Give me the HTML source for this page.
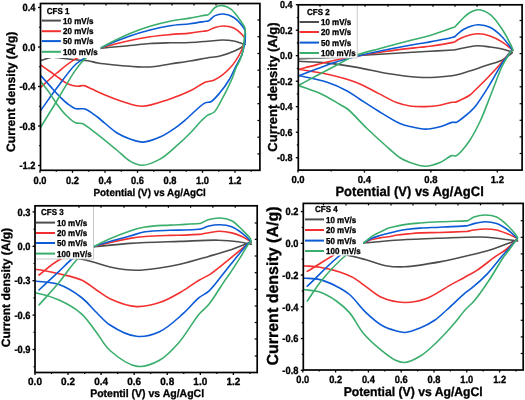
<!DOCTYPE html>
<html><head><meta charset="utf-8"><style>
html,body{margin:0;padding:0;background:#fff;}
svg{display:block;filter:blur(0.3px);}
text{font-family:"Liberation Sans", sans-serif;fill:#000;stroke:#000;stroke-width:0.3px;text-rendering:geometricPrecision;}
</style></head><body>
<svg width="525" height="400" viewBox="0 0 525 400">
<rect width="525" height="400" fill="#fff"/>
<clipPath id="c1"><rect x="40.50" y="3.50" width="219.40" height="166.80"/></clipPath>
<g clip-path="url(#c1)" fill="none" stroke-width="1.60" stroke-linejoin="round" stroke-linecap="round">
<path stroke="#4c4e4b" d="M40.00 56.00 C50.00 54.67 60.00 53.27 70.00 52.00 C80.00 50.73 89.99 49.48 100.00 48.40 C109.99 47.32 121.01 46.38 130.00 45.50 C137.34 44.78 143.33 43.95 150.00 43.50 C156.66 43.05 163.33 42.97 170.00 42.80 C176.67 42.63 183.50 42.77 190.00 42.50 C196.19 42.24 202.41 41.69 208.10 41.25 C213.18 40.85 218.00 40.00 222.50 40.00 C226.48 40.00 230.04 40.28 233.75 41.00 C237.54 41.73 241.25 43.27 245.00 44.40"/>
<path stroke="#4c4e4b" d="M245.00 44.00 C244.00 45.00 243.30 46.04 242.00 47.00 C240.23 48.31 237.83 49.46 235.00 50.70 C230.99 52.46 224.88 54.77 220.00 56.00 C215.57 57.11 211.62 57.24 207.00 58.00 C201.71 58.87 195.90 60.04 190.00 61.00 C183.61 62.04 176.18 63.02 170.00 64.00 C164.64 64.85 159.84 66.01 155.00 66.50 C150.53 66.96 146.25 67.04 142.00 67.00 C137.92 66.96 134.22 66.61 130.00 66.30 C125.28 65.96 120.15 65.53 115.00 65.00 C109.51 64.44 102.90 63.83 98.00 63.00 C94.21 62.36 91.54 61.33 88.00 60.80 C84.08 60.22 79.74 60.22 75.50 59.80 C71.08 59.36 66.17 58.63 62.00 58.20 C58.42 57.83 55.45 56.96 52.00 57.30 C48.15 57.67 44.00 59.63 40.00 60.80"/>
<path stroke="#f33030" d="M40.00 88.00 C45.60 83.00 50.95 77.81 56.80 73.00 C62.77 68.10 68.58 62.91 75.50 58.90 C82.88 54.62 91.30 51.39 100.00 48.40 C109.38 45.17 120.98 42.52 130.00 40.50 C137.31 38.86 143.32 37.78 150.00 36.80 C156.65 35.82 163.33 35.22 170.00 34.60 C176.66 33.98 183.71 33.77 190.00 33.10 C195.64 32.50 203.16 31.30 206.00 30.90 C207.03 30.76 207.44 30.82 208.10 30.60 C208.77 30.38 209.21 29.97 210.00 29.60 C211.26 29.00 213.10 28.07 215.00 27.50 C217.34 26.80 220.22 25.98 223.10 26.00 C226.41 26.02 230.53 26.62 233.75 28.10 C237.01 29.60 240.57 32.90 242.50 35.00 C243.73 36.33 244.60 37.61 245.00 38.75 C245.28 39.56 245.13 40.25 245.20 41.00"/>
<path stroke="#f33030" d="M245.00 40.00 C243.67 43.83 243.01 47.46 241.00 51.50 C238.44 56.66 234.46 63.25 230.00 68.00 C225.55 72.74 219.06 77.71 214.30 80.00 C211.00 81.59 208.37 80.97 205.10 82.30 C200.87 84.02 196.65 87.74 191.40 90.30 C184.86 93.49 176.56 96.78 168.60 99.40 C160.23 102.16 150.41 106.20 142.30 106.30 C135.35 106.38 129.28 103.66 122.90 101.70 C116.43 99.71 109.42 96.76 103.75 94.40 C99.11 92.47 94.90 90.34 91.25 88.75 C88.44 87.53 86.18 85.96 83.75 85.60 C81.61 85.28 79.81 86.41 77.50 86.25 C74.54 86.04 70.49 85.07 67.50 83.75 C64.70 82.51 62.70 80.63 60.00 78.75 C56.73 76.48 52.75 73.46 49.30 71.00 C46.10 68.72 43.10 66.67 40.00 64.50"/>
<path stroke="#0b5ad6" d="M40.00 111.40 C45.60 103.60 50.95 95.74 56.80 88.00 C62.77 80.10 69.98 69.66 75.50 64.50 C78.90 61.32 81.37 60.34 84.90 58.00 C89.31 55.07 93.95 51.54 100.00 48.40 C108.15 44.17 120.94 39.22 130.00 36.00 C137.27 33.41 143.30 31.71 150.00 30.00 C156.63 28.31 163.31 26.84 170.00 25.80 C176.64 24.77 183.71 24.55 190.00 23.75 C195.64 23.03 203.16 21.72 206.00 21.30 C207.03 21.15 207.44 21.24 208.10 21.00 C208.78 20.75 209.24 20.36 210.00 19.80 C211.30 18.85 212.95 16.56 215.00 15.60 C217.39 14.47 220.77 13.77 223.75 14.00 C227.00 14.25 230.72 15.60 233.75 17.50 C237.02 19.56 240.57 23.72 242.50 26.25 C243.73 27.86 244.53 29.01 245.00 30.60 C245.49 32.25 245.29 34.15 245.30 36.00 C245.31 37.95 245.10 40.00 245.00 42.00"/>
<path stroke="#0b5ad6" d="M245.00 42.00 C244.00 46.17 243.49 50.51 242.00 54.50 C240.50 58.51 238.06 61.97 236.00 66.00 C233.74 70.43 231.68 75.56 229.00 80.00 C226.34 84.42 223.17 88.86 220.00 92.60 C217.11 96.01 213.82 100.12 210.90 101.70 C208.92 102.77 207.43 101.75 205.10 102.90 C200.16 105.33 190.36 115.78 184.90 120.30 C181.27 123.30 179.24 125.14 175.70 127.60 C171.35 130.63 165.91 134.39 160.50 136.80 C155.02 139.24 148.42 141.94 143.00 142.10 C138.37 142.24 134.28 140.51 130.00 139.00 C125.51 137.42 121.33 135.62 116.70 132.70 C110.78 128.97 103.59 121.69 98.00 117.50 C93.70 114.28 89.18 110.60 86.25 109.40 C84.74 108.78 83.97 108.90 82.50 108.75 C80.43 108.54 77.40 109.24 75.00 108.50 C72.39 107.69 69.92 105.60 67.50 103.75 C64.91 101.77 62.65 99.56 60.00 96.90 C56.68 93.56 52.74 88.90 49.30 85.10 C46.09 81.55 43.10 78.23 40.00 74.80"/>
<path stroke="#3aae6c" d="M40.00 128.30 C45.60 119.20 51.07 110.39 56.80 101.00 C62.88 91.03 70.07 77.69 75.50 70.10 C78.96 65.27 81.13 62.34 84.90 58.90 C89.13 55.04 93.96 51.98 100.00 48.40 C108.16 43.57 120.91 37.38 130.00 33.50 C137.24 30.41 143.28 28.34 150.00 26.30 C156.62 24.29 163.30 22.67 170.00 21.30 C176.64 19.94 183.71 19.19 190.00 18.10 C195.64 17.12 203.16 15.60 206.00 15.10 C207.03 14.92 207.45 15.04 208.10 14.75 C208.79 14.44 209.25 13.92 210.00 13.20 C211.31 11.93 212.93 8.77 215.00 7.50 C217.09 6.22 219.94 5.39 222.50 5.60 C225.34 5.83 228.55 7.37 231.25 9.40 C234.49 11.84 237.58 16.62 240.00 20.00 C242.01 22.81 244.27 25.17 245.00 28.10 C245.73 31.01 244.67 34.55 244.40 37.50 C244.16 40.14 243.80 42.50 243.50 45.00"/>
<path stroke="#3aae6c" d="M243.50 45.00 C243.37 46.67 243.47 48.07 243.10 50.00 C242.56 52.79 241.25 56.90 240.00 60.00 C238.85 62.87 237.30 65.03 236.00 68.00 C234.45 71.56 233.50 75.42 231.50 80.00 C228.67 86.48 223.29 97.06 220.00 102.90 C217.87 106.68 216.64 109.88 214.30 112.00 C212.32 113.79 209.51 113.99 207.40 115.40 C205.28 116.82 203.75 118.38 201.60 120.50 C198.52 123.54 194.94 128.17 191.00 132.20 C186.45 136.86 180.89 142.17 175.70 146.70 C170.71 151.05 166.09 155.80 160.50 158.90 C154.92 161.99 147.69 165.29 142.20 165.30 C137.72 165.31 133.96 163.33 130.00 161.10 C125.42 158.52 121.93 154.26 116.70 150.00 C109.36 144.01 96.35 133.27 90.00 128.70 C86.67 126.30 84.72 124.57 82.10 123.60 C79.89 122.78 77.76 123.67 75.50 122.70 C72.47 121.40 69.08 118.13 66.10 115.20 C62.81 111.96 59.64 107.74 56.80 103.90 C54.06 100.20 52.00 96.38 49.30 92.60 C46.43 88.59 43.10 84.53 40.00 80.50"/>
</g>
<rect x="40.50" y="3.50" width="59.80" height="54.50" fill="#fff"/>
<text transform="translate(46.80 13.81) scale(1 1.080)" font-size="8.00" text-anchor="start" font-weight="bold">CFS 1</text>
<line x1="41.80" y1="20.60" x2="60.90" y2="20.60" stroke="#4c4e4b" stroke-width="2"/>
<text transform="translate(63.10 23.71) scale(1 1.080)" font-size="8.00" text-anchor="start" font-weight="bold">10 mV/s</text>
<line x1="41.80" y1="31.20" x2="60.90" y2="31.20" stroke="#f33030" stroke-width="2"/>
<text transform="translate(63.10 34.31) scale(1 1.080)" font-size="8.00" text-anchor="start" font-weight="bold">20 mV/s</text>
<line x1="41.80" y1="41.10" x2="60.90" y2="41.10" stroke="#0b5ad6" stroke-width="2"/>
<text transform="translate(63.10 44.21) scale(1 1.080)" font-size="8.00" text-anchor="start" font-weight="bold">50 mV/s</text>
<line x1="41.80" y1="51.80" x2="60.90" y2="51.80" stroke="#3aae6c" stroke-width="2"/>
<text transform="translate(63.10 54.91) scale(1 1.080)" font-size="8.00" text-anchor="start" font-weight="bold">100 mV/s</text>
<rect x="40.50" y="3.50" width="219.40" height="166.80" fill="none" stroke="#000" stroke-width="1.7"/>
<line x1="40.00" y1="170.30" x2="40.00" y2="172.80" stroke="#000" stroke-width="1.3"/>
<text transform="translate(40.00 184.35) scale(1 1.120)" font-size="9.30" text-anchor="middle" font-weight="bold">0.0</text>
<line x1="72.50" y1="170.30" x2="72.50" y2="172.80" stroke="#000" stroke-width="1.3"/>
<text transform="translate(72.50 184.35) scale(1 1.120)" font-size="9.30" text-anchor="middle" font-weight="bold">0.2</text>
<line x1="105.00" y1="170.30" x2="105.00" y2="172.80" stroke="#000" stroke-width="1.3"/>
<text transform="translate(105.00 184.35) scale(1 1.120)" font-size="9.30" text-anchor="middle" font-weight="bold">0.4</text>
<line x1="137.50" y1="170.30" x2="137.50" y2="172.80" stroke="#000" stroke-width="1.3"/>
<text transform="translate(137.50 184.35) scale(1 1.120)" font-size="9.30" text-anchor="middle" font-weight="bold">0.6</text>
<line x1="170.00" y1="170.30" x2="170.00" y2="172.80" stroke="#000" stroke-width="1.3"/>
<text transform="translate(170.00 184.35) scale(1 1.120)" font-size="9.30" text-anchor="middle" font-weight="bold">0.8</text>
<line x1="202.50" y1="170.30" x2="202.50" y2="172.80" stroke="#000" stroke-width="1.3"/>
<text transform="translate(202.50 184.35) scale(1 1.120)" font-size="9.30" text-anchor="middle" font-weight="bold">1.0</text>
<line x1="235.00" y1="170.30" x2="235.00" y2="172.80" stroke="#000" stroke-width="1.3"/>
<text transform="translate(235.00 184.35) scale(1 1.120)" font-size="9.30" text-anchor="middle" font-weight="bold">1.2</text>
<line x1="56.25" y1="170.30" x2="56.25" y2="171.80" stroke="#000" stroke-width="1.2"/>
<line x1="88.75" y1="170.30" x2="88.75" y2="171.80" stroke="#000" stroke-width="1.2"/>
<line x1="121.25" y1="170.30" x2="121.25" y2="171.80" stroke="#000" stroke-width="1.2"/>
<line x1="153.75" y1="170.30" x2="153.75" y2="171.80" stroke="#000" stroke-width="1.2"/>
<line x1="186.25" y1="170.30" x2="186.25" y2="171.80" stroke="#000" stroke-width="1.2"/>
<line x1="218.75" y1="170.30" x2="218.75" y2="171.80" stroke="#000" stroke-width="1.2"/>
<line x1="251.25" y1="170.30" x2="251.25" y2="171.80" stroke="#000" stroke-width="1.2"/>
<line x1="38.00" y1="7.50" x2="40.50" y2="7.50" stroke="#000" stroke-width="1.3"/>
<text transform="translate(35.50 11.25) scale(1 1.120)" font-size="9.30" text-anchor="end" font-weight="bold">0.4</text>
<line x1="38.00" y1="47.00" x2="40.50" y2="47.00" stroke="#000" stroke-width="1.3"/>
<text transform="translate(35.50 50.75) scale(1 1.120)" font-size="9.30" text-anchor="end" font-weight="bold">0.0</text>
<line x1="38.00" y1="86.50" x2="40.50" y2="86.50" stroke="#000" stroke-width="1.3"/>
<text transform="translate(35.50 90.25) scale(1 1.120)" font-size="9.30" text-anchor="end" font-weight="bold">-0.4</text>
<line x1="38.00" y1="126.00" x2="40.50" y2="126.00" stroke="#000" stroke-width="1.3"/>
<text transform="translate(35.50 129.75) scale(1 1.120)" font-size="9.30" text-anchor="end" font-weight="bold">-0.8</text>
<line x1="38.00" y1="165.50" x2="40.50" y2="165.50" stroke="#000" stroke-width="1.3"/>
<text transform="translate(35.50 169.25) scale(1 1.120)" font-size="9.30" text-anchor="end" font-weight="bold">-1.2</text>
<line x1="39.00" y1="27.25" x2="40.50" y2="27.25" stroke="#000" stroke-width="1.2"/>
<line x1="39.00" y1="66.75" x2="40.50" y2="66.75" stroke="#000" stroke-width="1.2"/>
<line x1="39.00" y1="106.25" x2="40.50" y2="106.25" stroke="#000" stroke-width="1.2"/>
<line x1="39.00" y1="145.75" x2="40.50" y2="145.75" stroke="#000" stroke-width="1.2"/>
<line x1="62.00" y1="3.50" x2="62.00" y2="5.50" stroke="#000" stroke-width="1.2"/>
<line x1="84.00" y1="3.50" x2="84.00" y2="5.50" stroke="#000" stroke-width="1.2"/>
<line x1="106.00" y1="3.50" x2="106.00" y2="5.50" stroke="#000" stroke-width="1.2"/>
<line x1="128.00" y1="3.50" x2="128.00" y2="5.50" stroke="#000" stroke-width="1.2"/>
<line x1="150.00" y1="3.50" x2="150.00" y2="5.50" stroke="#000" stroke-width="1.2"/>
<line x1="172.00" y1="3.50" x2="172.00" y2="5.50" stroke="#000" stroke-width="1.2"/>
<line x1="194.00" y1="3.50" x2="194.00" y2="5.50" stroke="#000" stroke-width="1.2"/>
<line x1="216.00" y1="3.50" x2="216.00" y2="5.50" stroke="#000" stroke-width="1.2"/>
<line x1="238.00" y1="3.50" x2="238.00" y2="5.50" stroke="#000" stroke-width="1.2"/>
<line x1="257.40" y1="20.00" x2="259.90" y2="20.00" stroke="#000" stroke-width="1.2"/>
<line x1="257.40" y1="36.70" x2="259.90" y2="36.70" stroke="#000" stroke-width="1.2"/>
<line x1="257.40" y1="53.50" x2="259.90" y2="53.50" stroke="#000" stroke-width="1.2"/>
<line x1="257.40" y1="70.20" x2="259.90" y2="70.20" stroke="#000" stroke-width="1.2"/>
<line x1="257.40" y1="87.00" x2="259.90" y2="87.00" stroke="#000" stroke-width="1.2"/>
<line x1="257.40" y1="103.70" x2="259.90" y2="103.70" stroke="#000" stroke-width="1.2"/>
<line x1="257.40" y1="120.50" x2="259.90" y2="120.50" stroke="#000" stroke-width="1.2"/>
<line x1="257.40" y1="137.20" x2="259.90" y2="137.20" stroke="#000" stroke-width="1.2"/>
<line x1="257.40" y1="153.90" x2="259.90" y2="153.90" stroke="#000" stroke-width="1.2"/>
<text transform="translate(149.70 195.99) scale(1 1.040)" font-size="9.85" text-anchor="middle" font-weight="bold">Potential (V) vs Ag/AgCl</text>
<text transform="translate(10.50 91.80) rotate(-90)" x="0" y="4.36" font-size="12.10" text-anchor="middle" font-weight="bold">Current density (A/g)</text>
<clipPath id="c2"><rect x="298.30" y="4.80" width="223.80" height="165.30"/></clipPath>
<g clip-path="url(#c2)" fill="none" stroke-width="1.60" stroke-linejoin="round" stroke-linecap="round">
<path stroke="#4c4e4b" d="M298.00 59.00 C308.67 58.50 319.60 58.10 330.00 57.50 C339.91 56.93 348.50 56.18 359.00 55.50 C371.49 54.69 387.40 53.74 400.00 53.00 C410.78 52.37 420.66 51.83 430.00 51.30 C438.18 50.84 449.51 50.27 453.00 50.00 C454.03 49.92 454.07 49.94 455.00 49.80 C457.20 49.46 462.24 48.16 466.00 47.50 C469.90 46.82 474.00 45.88 478.00 45.80 C482.00 45.72 486.01 46.47 490.00 47.00 C494.01 47.53 498.18 48.09 502.00 49.00 C505.59 49.85 508.87 51.13 512.30 52.20"/>
<path stroke="#4c4e4b" d="M512.00 53.00 C508.83 55.33 506.28 58.04 502.50 60.00 C497.91 62.38 491.50 63.67 486.00 65.50 C480.50 67.33 474.74 69.35 469.50 71.00 C464.79 72.48 460.99 73.99 456.00 75.00 C450.03 76.20 442.50 76.84 436.00 77.20 C429.85 77.54 424.77 77.61 418.00 77.20 C409.15 76.67 397.64 75.13 387.50 73.50 C377.30 71.86 367.19 69.17 357.00 67.40 C346.86 65.64 336.52 63.92 326.50 62.90 C316.86 61.92 307.50 61.83 298.00 61.30"/>
<path stroke="#f33030" d="M298.00 69.60 C304.33 67.93 310.66 66.20 317.00 64.60 C323.33 63.00 329.34 61.41 336.00 60.00 C343.28 58.46 351.09 57.18 359.00 55.80 C367.40 54.34 375.67 52.83 385.00 51.50 C395.79 49.96 411.87 48.23 420.00 47.30 C424.34 46.80 425.99 46.75 430.00 46.20 C436.10 45.36 449.52 43.21 453.00 42.40 C454.04 42.16 454.36 42.12 455.00 41.80 C455.70 41.45 456.09 40.86 457.00 40.30 C458.64 39.29 461.41 37.70 464.30 36.70 C468.09 35.39 473.58 33.88 478.00 33.80 C482.13 33.73 486.09 34.61 490.00 35.90 C494.10 37.25 498.26 39.55 502.00 41.90 C505.69 44.22 508.87 47.23 512.30 49.90"/>
<path stroke="#f33030" d="M511.00 51.00 C508.17 54.47 505.72 57.66 502.50 61.40 C498.53 66.01 493.43 71.63 488.80 76.50 C484.27 81.26 478.48 86.93 475.00 90.30 C472.94 92.30 471.97 93.58 470.00 95.00 C467.73 96.63 464.54 98.06 462.00 99.30 C459.77 100.38 457.48 101.65 455.60 102.10 C454.23 102.43 453.47 102.07 451.90 102.30 C449.05 102.72 444.18 104.49 440.00 105.20 C435.45 105.97 430.50 106.46 425.60 106.60 C420.51 106.75 414.96 106.73 410.00 106.00 C405.32 105.31 401.32 104.27 396.60 102.50 C390.87 100.35 384.63 96.56 378.30 93.40 C371.47 89.98 364.90 85.78 357.00 82.70 C347.89 79.15 336.56 76.26 326.50 74.00 C316.90 71.85 307.50 70.87 298.00 69.30"/>
<path stroke="#0b5ad6" d="M298.00 76.00 C304.33 73.60 310.66 71.14 317.00 68.80 C323.32 66.47 329.32 64.09 336.00 62.00 C343.26 59.73 351.08 57.75 359.00 55.80 C367.38 53.74 375.67 51.91 385.00 50.00 C395.78 47.80 411.87 44.91 420.00 43.50 C424.34 42.75 425.99 42.62 430.00 41.90 C436.10 40.80 449.53 38.33 453.00 37.30 C454.05 36.99 454.37 36.90 455.00 36.50 C455.71 36.04 456.10 35.37 457.00 34.60 C458.65 33.19 461.32 30.55 464.30 29.00 C468.02 27.07 473.56 24.90 478.00 24.70 C482.11 24.51 486.19 25.51 490.00 27.30 C494.24 29.29 498.34 33.08 502.00 36.70 C505.81 40.47 508.87 45.30 512.30 49.60"/>
<path stroke="#0b5ad6" d="M511.00 51.00 C508.17 54.93 505.55 58.12 502.50 62.80 C498.34 69.18 493.48 78.63 488.80 86.10 C484.31 93.27 478.63 102.33 475.00 106.80 C473.05 109.20 471.91 110.14 470.00 111.90 C467.69 114.02 464.44 116.66 462.00 118.50 C460.06 119.96 458.43 121.59 456.60 122.20 C455.05 122.72 453.79 122.02 451.90 122.40 C448.80 123.02 444.21 125.70 440.00 126.80 C435.48 127.98 430.49 129.12 425.60 129.10 C420.50 129.08 414.59 127.57 410.00 126.50 C406.27 125.63 403.88 125.18 400.00 123.50 C393.87 120.85 384.54 114.78 377.50 110.50 C371.12 106.62 364.98 102.53 359.50 99.00 C354.87 96.02 351.58 93.31 346.70 90.70 C340.85 87.57 333.93 84.43 326.50 82.00 C317.93 79.20 307.50 77.67 298.00 75.50"/>
<path stroke="#3aae6c" d="M298.00 85.70 C304.33 82.30 310.66 78.87 317.00 75.50 C323.33 72.14 329.75 68.79 336.00 65.50 C342.08 62.29 347.30 58.70 354.00 56.00 C361.73 52.88 370.87 51.03 380.00 48.50 C390.10 45.70 402.85 42.36 412.00 40.00 C418.85 38.23 423.68 37.37 430.00 35.50 C437.24 33.36 449.52 28.89 453.00 27.60 C454.04 27.21 454.38 27.23 455.00 26.80 C455.73 26.29 456.12 25.55 457.00 24.60 C458.66 22.82 461.95 19.14 464.30 17.00 C466.25 15.23 467.82 13.68 470.00 12.50 C472.35 11.23 475.08 9.74 478.00 9.80 C481.61 9.87 486.32 11.75 490.00 14.40 C494.47 17.62 498.53 23.91 502.00 29.00 C505.36 33.92 508.63 40.42 510.60 44.40 C511.80 46.83 512.33 48.40 513.20 50.40"/>
<path stroke="#3aae6c" d="M511.00 51.00 C508.17 55.83 505.30 59.78 502.50 65.50 C498.78 73.10 495.17 83.83 491.50 93.00 C487.83 102.17 484.37 112.22 480.50 120.50 C477.15 127.66 473.47 134.61 470.00 140.00 C467.32 144.16 464.67 147.67 462.00 150.50 C459.87 152.76 457.57 155.39 455.60 156.00 C454.29 156.41 453.42 155.28 451.90 155.60 C448.98 156.22 444.28 160.73 440.00 162.50 C435.54 164.34 430.50 166.25 425.60 166.30 C420.51 166.35 414.55 164.12 410.00 162.50 C406.22 161.16 403.51 160.02 400.00 157.75 C395.32 154.72 390.18 149.58 385.00 145.00 C379.23 139.90 373.06 134.30 367.00 128.50 C360.56 122.34 352.68 113.05 347.50 109.00 C344.58 106.72 343.03 106.27 340.00 104.50 C335.43 101.84 329.11 97.71 322.70 94.70 C315.32 91.23 306.23 88.43 298.00 85.30"/>
</g>
<rect x="298.30" y="4.80" width="58.90" height="53.20" fill="#fff" stroke="#bbbbbb" stroke-width="0.8"/>
<text transform="translate(307.00 15.11) scale(1 1.080)" font-size="8.00" text-anchor="start" font-weight="bold">CFS 2</text>
<line x1="299.60" y1="22.00" x2="319.00" y2="22.00" stroke="#4c4e4b" stroke-width="2"/>
<text transform="translate(321.00 25.11) scale(1 1.080)" font-size="8.00" text-anchor="start" font-weight="bold">10 mV/s</text>
<line x1="299.60" y1="32.00" x2="319.00" y2="32.00" stroke="#f33030" stroke-width="2"/>
<text transform="translate(321.00 35.11) scale(1 1.080)" font-size="8.00" text-anchor="start" font-weight="bold">20 mV/s</text>
<line x1="299.60" y1="42.60" x2="319.00" y2="42.60" stroke="#0b5ad6" stroke-width="2"/>
<text transform="translate(321.00 45.71) scale(1 1.080)" font-size="8.00" text-anchor="start" font-weight="bold">50 mV/s</text>
<line x1="299.60" y1="53.00" x2="319.00" y2="53.00" stroke="#3aae6c" stroke-width="2"/>
<text transform="translate(321.00 56.11) scale(1 1.080)" font-size="8.00" text-anchor="start" font-weight="bold">100 mV/s</text>
<rect x="298.30" y="4.80" width="223.80" height="165.30" fill="none" stroke="#000" stroke-width="1.7"/>
<line x1="298.00" y1="170.10" x2="298.00" y2="172.60" stroke="#000" stroke-width="1.3"/>
<text transform="translate(298.00 182.53) scale(1 1.060)" font-size="9.50" text-anchor="middle" font-weight="bold">0.0</text>
<line x1="364.44" y1="170.10" x2="364.44" y2="172.60" stroke="#000" stroke-width="1.3"/>
<text transform="translate(364.44 182.53) scale(1 1.060)" font-size="9.50" text-anchor="middle" font-weight="bold">0.4</text>
<line x1="430.88" y1="170.10" x2="430.88" y2="172.60" stroke="#000" stroke-width="1.3"/>
<text transform="translate(430.88 182.53) scale(1 1.060)" font-size="9.50" text-anchor="middle" font-weight="bold">0.8</text>
<line x1="497.32" y1="170.10" x2="497.32" y2="172.60" stroke="#000" stroke-width="1.3"/>
<text transform="translate(497.32 182.53) scale(1 1.060)" font-size="9.50" text-anchor="middle" font-weight="bold">1.2</text>
<line x1="331.22" y1="170.10" x2="331.22" y2="171.60" stroke="#000" stroke-width="1.2"/>
<line x1="397.66" y1="170.10" x2="397.66" y2="171.60" stroke="#000" stroke-width="1.2"/>
<line x1="464.10" y1="170.10" x2="464.10" y2="171.60" stroke="#000" stroke-width="1.2"/>
<line x1="295.80" y1="4.70" x2="298.30" y2="4.70" stroke="#000" stroke-width="1.3"/>
<text transform="translate(292.60 8.33) scale(1 1.120)" font-size="9.00" text-anchor="end" font-weight="bold">0.4</text>
<line x1="295.80" y1="30.20" x2="298.30" y2="30.20" stroke="#000" stroke-width="1.3"/>
<text transform="translate(292.60 33.83) scale(1 1.120)" font-size="9.00" text-anchor="end" font-weight="bold">0.2</text>
<line x1="295.80" y1="55.70" x2="298.30" y2="55.70" stroke="#000" stroke-width="1.3"/>
<text transform="translate(292.60 59.33) scale(1 1.120)" font-size="9.00" text-anchor="end" font-weight="bold">0.0</text>
<line x1="295.80" y1="81.20" x2="298.30" y2="81.20" stroke="#000" stroke-width="1.3"/>
<text transform="translate(292.60 84.83) scale(1 1.120)" font-size="9.00" text-anchor="end" font-weight="bold">-0.2</text>
<line x1="295.80" y1="106.70" x2="298.30" y2="106.70" stroke="#000" stroke-width="1.3"/>
<text transform="translate(292.60 110.33) scale(1 1.120)" font-size="9.00" text-anchor="end" font-weight="bold">-0.4</text>
<line x1="295.80" y1="132.20" x2="298.30" y2="132.20" stroke="#000" stroke-width="1.3"/>
<text transform="translate(292.60 135.83) scale(1 1.120)" font-size="9.00" text-anchor="end" font-weight="bold">-0.6</text>
<line x1="295.80" y1="157.70" x2="298.30" y2="157.70" stroke="#000" stroke-width="1.3"/>
<text transform="translate(292.60 161.33) scale(1 1.120)" font-size="9.00" text-anchor="end" font-weight="bold">-0.8</text>
<line x1="296.80" y1="17.45" x2="298.30" y2="17.45" stroke="#000" stroke-width="1.2"/>
<line x1="296.80" y1="42.95" x2="298.30" y2="42.95" stroke="#000" stroke-width="1.2"/>
<line x1="296.80" y1="68.45" x2="298.30" y2="68.45" stroke="#000" stroke-width="1.2"/>
<line x1="296.80" y1="93.95" x2="298.30" y2="93.95" stroke="#000" stroke-width="1.2"/>
<line x1="296.80" y1="119.45" x2="298.30" y2="119.45" stroke="#000" stroke-width="1.2"/>
<line x1="296.80" y1="144.95" x2="298.30" y2="144.95" stroke="#000" stroke-width="1.2"/>
<line x1="320.00" y1="4.80" x2="320.00" y2="6.80" stroke="#000" stroke-width="1.2"/>
<line x1="343.00" y1="4.80" x2="343.00" y2="6.80" stroke="#000" stroke-width="1.2"/>
<line x1="365.00" y1="4.80" x2="365.00" y2="6.80" stroke="#000" stroke-width="1.2"/>
<line x1="388.00" y1="4.80" x2="388.00" y2="6.80" stroke="#000" stroke-width="1.2"/>
<line x1="410.00" y1="4.80" x2="410.00" y2="6.80" stroke="#000" stroke-width="1.2"/>
<line x1="433.00" y1="4.80" x2="433.00" y2="6.80" stroke="#000" stroke-width="1.2"/>
<line x1="455.00" y1="4.80" x2="455.00" y2="6.80" stroke="#000" stroke-width="1.2"/>
<line x1="477.00" y1="4.80" x2="477.00" y2="6.80" stroke="#000" stroke-width="1.2"/>
<line x1="500.00" y1="4.80" x2="500.00" y2="6.80" stroke="#000" stroke-width="1.2"/>
<line x1="519.60" y1="20.50" x2="522.10" y2="20.50" stroke="#000" stroke-width="1.2"/>
<line x1="519.60" y1="37.10" x2="522.10" y2="37.10" stroke="#000" stroke-width="1.2"/>
<line x1="519.60" y1="53.60" x2="522.10" y2="53.60" stroke="#000" stroke-width="1.2"/>
<line x1="519.60" y1="70.20" x2="522.10" y2="70.20" stroke="#000" stroke-width="1.2"/>
<line x1="519.60" y1="86.80" x2="522.10" y2="86.80" stroke="#000" stroke-width="1.2"/>
<line x1="519.60" y1="103.70" x2="522.10" y2="103.70" stroke="#000" stroke-width="1.2"/>
<line x1="519.60" y1="120.30" x2="522.10" y2="120.30" stroke="#000" stroke-width="1.2"/>
<line x1="519.60" y1="136.90" x2="522.10" y2="136.90" stroke="#000" stroke-width="1.2"/>
<line x1="519.60" y1="153.50" x2="522.10" y2="153.50" stroke="#000" stroke-width="1.2"/>
<text transform="translate(409.60 195.77) scale(1 1.040)" font-size="13.00" text-anchor="middle" font-weight="bold">Potential (V) vs Ag/AgCl</text>
<text transform="translate(272.00 87.00) rotate(-90)" x="0" y="4.68" font-size="13.00" text-anchor="middle" font-weight="bold">Current density (A/g)</text>
<clipPath id="c3"><rect x="35.00" y="205.80" width="222.20" height="166.70"/></clipPath>
<g clip-path="url(#c3)" fill="none" stroke-width="1.60" stroke-linejoin="round" stroke-linecap="round">
<path stroke="#4c4e4b" d="M39.00 250.00 C57.23 248.93 77.34 248.04 93.70 246.80 C107.05 245.78 116.92 244.27 130.00 243.40 C145.32 242.38 164.44 241.95 180.00 241.40 C193.62 240.91 207.60 239.94 218.30 240.20 C226.05 240.39 232.36 241.00 238.30 241.80 C243.15 242.45 247.03 243.47 251.40 244.30"/>
<path stroke="#4c4e4b" d="M251.00 242.50 C249.70 242.87 248.84 243.03 247.10 243.60 C243.40 244.81 236.06 247.96 230.00 250.00 C223.30 252.25 216.26 254.20 208.60 256.40 C199.77 258.94 188.78 262.30 180.00 264.30 C172.64 265.98 166.56 267.01 159.50 268.00 C152.05 269.04 144.35 270.40 136.40 270.30 C127.89 270.19 117.78 268.62 110.00 267.00 C103.65 265.68 98.41 263.41 93.00 262.00 C88.13 260.73 85.01 259.74 79.00 258.80 C68.46 257.15 49.67 256.27 35.00 255.00"/>
<path stroke="#f33030" d="M39.00 275.00 C45.67 270.00 51.06 264.37 59.00 260.00 C68.68 254.67 81.88 250.40 93.70 246.80 C105.54 243.20 120.50 240.10 130.00 238.40 C136.05 237.32 139.35 236.98 145.00 236.50 C152.26 235.88 162.72 235.63 170.00 235.40 C175.63 235.22 180.09 235.27 185.00 235.10 C189.75 234.93 196.44 234.59 199.00 234.40 C199.97 234.33 200.34 234.32 201.00 234.20 C201.67 234.08 202.15 233.88 203.00 233.70 C204.46 233.40 206.71 233.04 209.00 232.70 C212.05 232.25 216.03 231.30 219.70 231.30 C223.59 231.30 227.87 231.97 231.70 232.90 C235.39 233.80 239.08 235.21 242.30 236.70 C245.22 238.05 249.09 240.52 250.30 241.30 C250.67 241.54 250.77 241.63 251.00 241.80"/>
<path stroke="#f33030" d="M250.50 241.50 C249.37 242.43 248.66 243.00 247.10 244.30 C243.58 247.22 235.96 253.77 230.00 258.60 C223.63 263.76 215.82 270.49 210.00 274.30 C205.92 276.97 202.98 277.83 199.00 280.20 C193.99 283.19 188.57 287.59 182.50 291.10 C175.58 295.10 167.37 300.01 159.50 302.60 C151.99 305.07 144.30 307.07 136.40 306.60 C127.84 306.09 117.15 301.99 110.00 298.70 C104.54 296.19 101.11 293.02 96.50 290.00 C91.62 286.80 87.24 282.62 81.50 280.00 C74.96 277.01 66.54 275.56 59.00 273.80 C51.53 272.06 40.26 269.93 36.50 269.50 C35.26 269.36 34.83 269.43 34.00 269.40"/>
<path stroke="#0b5ad6" d="M39.00 290.00 C45.67 283.77 52.80 277.05 59.00 271.30 C64.35 266.34 68.38 261.51 74.00 257.50 C79.89 253.29 85.94 250.02 93.70 246.80 C103.79 242.61 120.52 238.74 130.00 236.00 C136.08 234.24 139.31 232.76 145.00 231.80 C152.22 230.59 162.72 230.59 170.00 230.30 C175.63 230.07 180.09 230.19 185.00 230.00 C189.75 229.82 196.44 229.40 199.00 229.20 C199.97 229.12 200.34 229.15 201.00 229.00 C201.68 228.85 202.16 228.61 203.00 228.30 C204.47 227.76 206.67 226.58 209.00 226.00 C212.02 225.25 216.04 224.62 219.70 224.70 C223.59 224.79 227.95 225.29 231.70 226.70 C235.49 228.13 239.12 230.87 242.30 233.30 C245.27 235.57 249.10 239.46 250.30 240.70 C250.68 241.09 250.77 241.23 251.00 241.50"/>
<path stroke="#0b5ad6" d="M250.50 241.50 C249.63 242.20 249.00 242.53 247.90 243.60 C245.45 246.00 240.91 251.75 237.10 256.40 C232.65 261.84 227.65 268.46 222.90 274.30 C218.25 280.02 213.46 287.01 208.90 291.10 C205.54 294.12 202.56 294.78 199.00 297.70 C194.01 301.79 188.66 308.82 182.50 314.20 C175.65 320.18 167.62 328.04 159.50 331.70 C152.17 335.00 144.23 337.12 136.40 336.30 C127.76 335.40 117.03 329.57 110.00 325.00 C104.37 321.35 101.08 316.90 96.50 312.50 C91.59 307.77 87.34 301.99 81.50 297.50 C75.03 292.54 66.77 287.18 59.00 284.50 C51.73 281.99 40.25 281.64 36.50 281.30 C35.25 281.19 34.83 281.23 34.00 281.20"/>
<path stroke="#3aae6c" d="M39.00 305.00 C45.67 297.50 52.54 290.19 59.00 282.50 C65.48 274.79 71.39 265.06 77.80 258.80 C83.00 253.72 87.04 250.69 93.70 246.80 C103.09 241.32 120.43 234.34 130.00 231.00 C135.99 228.91 139.31 227.97 145.00 227.00 C152.23 225.77 162.72 225.55 170.00 225.10 C175.63 224.75 180.09 224.67 185.00 224.40 C189.75 224.14 196.44 223.77 199.00 223.50 C199.97 223.40 200.35 223.41 201.00 223.20 C201.68 222.98 202.15 222.60 203.00 222.20 C204.46 221.52 206.66 220.27 209.00 219.60 C212.01 218.74 216.04 217.87 219.70 218.00 C223.60 218.14 228.04 218.84 231.70 220.70 C235.62 222.70 239.09 226.86 242.30 230.00 C245.24 232.87 249.11 236.63 250.30 238.70 C250.83 239.63 250.77 240.23 251.00 241.00"/>
<path stroke="#3aae6c" d="M251.00 241.50 C250.43 241.97 250.00 242.09 249.30 242.90 C247.31 245.18 243.24 252.81 240.00 257.90 C236.59 263.26 232.03 270.36 229.30 274.30 C227.72 276.58 227.11 277.16 225.40 279.60 C221.76 284.79 213.99 298.10 208.90 304.30 C205.41 308.56 202.66 309.86 199.00 314.20 C193.28 320.99 186.24 334.20 179.20 342.20 C172.98 349.27 166.78 356.26 159.50 360.30 C152.78 364.03 145.03 367.36 137.50 366.40 C128.61 365.27 117.09 356.79 110.00 350.50 C104.03 345.20 101.17 338.52 96.50 332.50 C91.68 326.29 87.55 319.13 81.50 313.80 C75.15 308.21 66.73 303.50 59.00 300.00 C51.70 296.69 40.27 293.73 36.50 293.00 C35.27 292.76 34.83 292.87 34.00 292.80"/>
</g>
<rect x="35.00" y="205.80" width="58.50" height="53.20" fill="#fff" stroke="#bbbbbb" stroke-width="0.8"/>
<text transform="translate(41.00 214.91) scale(1 1.080)" font-size="8.00" text-anchor="start" font-weight="bold">CFS 3</text>
<line x1="36.00" y1="222.60" x2="55.00" y2="222.60" stroke="#4c4e4b" stroke-width="2"/>
<text transform="translate(57.00 225.71) scale(1 1.080)" font-size="8.00" text-anchor="start" font-weight="bold">10 mV/s</text>
<line x1="36.00" y1="233.00" x2="55.00" y2="233.00" stroke="#f33030" stroke-width="2"/>
<text transform="translate(57.00 236.11) scale(1 1.080)" font-size="8.00" text-anchor="start" font-weight="bold">20 mV/s</text>
<line x1="36.00" y1="243.00" x2="55.00" y2="243.00" stroke="#0b5ad6" stroke-width="2"/>
<text transform="translate(57.00 246.11) scale(1 1.080)" font-size="8.00" text-anchor="start" font-weight="bold">50 mV/s</text>
<line x1="36.00" y1="253.60" x2="55.00" y2="253.60" stroke="#3aae6c" stroke-width="2"/>
<text transform="translate(57.00 256.71) scale(1 1.080)" font-size="8.00" text-anchor="start" font-weight="bold">100 mV/s</text>
<rect x="35.00" y="205.80" width="222.20" height="166.70" fill="none" stroke="#000" stroke-width="1.7"/>
<line x1="35.00" y1="372.50" x2="35.00" y2="375.00" stroke="#000" stroke-width="1.3"/>
<text transform="translate(35.00 385.04) scale(1 1.040)" font-size="10.00" text-anchor="middle" font-weight="bold">0.0</text>
<line x1="68.06" y1="372.50" x2="68.06" y2="375.00" stroke="#000" stroke-width="1.3"/>
<text transform="translate(68.06 385.04) scale(1 1.040)" font-size="10.00" text-anchor="middle" font-weight="bold">0.2</text>
<line x1="101.12" y1="372.50" x2="101.12" y2="375.00" stroke="#000" stroke-width="1.3"/>
<text transform="translate(101.12 385.04) scale(1 1.040)" font-size="10.00" text-anchor="middle" font-weight="bold">0.4</text>
<line x1="134.18" y1="372.50" x2="134.18" y2="375.00" stroke="#000" stroke-width="1.3"/>
<text transform="translate(134.18 385.04) scale(1 1.040)" font-size="10.00" text-anchor="middle" font-weight="bold">0.6</text>
<line x1="167.24" y1="372.50" x2="167.24" y2="375.00" stroke="#000" stroke-width="1.3"/>
<text transform="translate(167.24 385.04) scale(1 1.040)" font-size="10.00" text-anchor="middle" font-weight="bold">0.8</text>
<line x1="200.30" y1="372.50" x2="200.30" y2="375.00" stroke="#000" stroke-width="1.3"/>
<text transform="translate(200.30 385.04) scale(1 1.040)" font-size="10.00" text-anchor="middle" font-weight="bold">1.0</text>
<line x1="233.36" y1="372.50" x2="233.36" y2="375.00" stroke="#000" stroke-width="1.3"/>
<text transform="translate(233.36 385.04) scale(1 1.040)" font-size="10.00" text-anchor="middle" font-weight="bold">1.2</text>
<line x1="51.53" y1="372.50" x2="51.53" y2="374.00" stroke="#000" stroke-width="1.2"/>
<line x1="84.59" y1="372.50" x2="84.59" y2="374.00" stroke="#000" stroke-width="1.2"/>
<line x1="117.65" y1="372.50" x2="117.65" y2="374.00" stroke="#000" stroke-width="1.2"/>
<line x1="150.71" y1="372.50" x2="150.71" y2="374.00" stroke="#000" stroke-width="1.2"/>
<line x1="183.77" y1="372.50" x2="183.77" y2="374.00" stroke="#000" stroke-width="1.2"/>
<line x1="216.83" y1="372.50" x2="216.83" y2="374.00" stroke="#000" stroke-width="1.2"/>
<line x1="249.89" y1="372.50" x2="249.89" y2="374.00" stroke="#000" stroke-width="1.2"/>
<line x1="32.50" y1="211.89" x2="35.00" y2="211.89" stroke="#000" stroke-width="1.3"/>
<text transform="translate(30.50 215.64) scale(1 1.120)" font-size="9.30" text-anchor="end" font-weight="bold">0.3</text>
<line x1="32.50" y1="246.30" x2="35.00" y2="246.30" stroke="#000" stroke-width="1.3"/>
<text transform="translate(30.50 250.05) scale(1 1.120)" font-size="9.30" text-anchor="end" font-weight="bold">0.0</text>
<line x1="32.50" y1="280.71" x2="35.00" y2="280.71" stroke="#000" stroke-width="1.3"/>
<text transform="translate(30.50 284.46) scale(1 1.120)" font-size="9.30" text-anchor="end" font-weight="bold">-0.3</text>
<line x1="32.50" y1="315.12" x2="35.00" y2="315.12" stroke="#000" stroke-width="1.3"/>
<text transform="translate(30.50 318.87) scale(1 1.120)" font-size="9.30" text-anchor="end" font-weight="bold">-0.6</text>
<line x1="32.50" y1="349.53" x2="35.00" y2="349.53" stroke="#000" stroke-width="1.3"/>
<text transform="translate(30.50 353.28) scale(1 1.120)" font-size="9.30" text-anchor="end" font-weight="bold">-0.9</text>
<line x1="33.50" y1="229.10" x2="35.00" y2="229.10" stroke="#000" stroke-width="1.2"/>
<line x1="33.50" y1="263.50" x2="35.00" y2="263.50" stroke="#000" stroke-width="1.2"/>
<line x1="33.50" y1="297.92" x2="35.00" y2="297.92" stroke="#000" stroke-width="1.2"/>
<line x1="33.50" y1="332.33" x2="35.00" y2="332.33" stroke="#000" stroke-width="1.2"/>
<line x1="33.50" y1="366.74" x2="35.00" y2="366.74" stroke="#000" stroke-width="1.2"/>
<line x1="79.00" y1="205.80" x2="79.00" y2="207.80" stroke="#000" stroke-width="1.2"/>
<line x1="101.00" y1="205.80" x2="101.00" y2="207.80" stroke="#000" stroke-width="1.2"/>
<line x1="124.00" y1="205.80" x2="124.00" y2="207.80" stroke="#000" stroke-width="1.2"/>
<line x1="146.00" y1="205.80" x2="146.00" y2="207.80" stroke="#000" stroke-width="1.2"/>
<line x1="168.40" y1="205.80" x2="168.40" y2="207.80" stroke="#000" stroke-width="1.2"/>
<line x1="190.60" y1="205.80" x2="190.60" y2="207.80" stroke="#000" stroke-width="1.2"/>
<line x1="212.90" y1="205.80" x2="212.90" y2="207.80" stroke="#000" stroke-width="1.2"/>
<line x1="235.20" y1="205.80" x2="235.20" y2="207.80" stroke="#000" stroke-width="1.2"/>
<line x1="254.70" y1="223.00" x2="257.20" y2="223.00" stroke="#000" stroke-width="1.2"/>
<line x1="254.70" y1="239.30" x2="257.20" y2="239.30" stroke="#000" stroke-width="1.2"/>
<line x1="254.70" y1="256.00" x2="257.20" y2="256.00" stroke="#000" stroke-width="1.2"/>
<line x1="254.70" y1="272.70" x2="257.20" y2="272.70" stroke="#000" stroke-width="1.2"/>
<line x1="254.70" y1="289.30" x2="257.20" y2="289.30" stroke="#000" stroke-width="1.2"/>
<line x1="254.70" y1="306.00" x2="257.20" y2="306.00" stroke="#000" stroke-width="1.2"/>
<line x1="254.70" y1="322.50" x2="257.20" y2="322.50" stroke="#000" stroke-width="1.2"/>
<line x1="254.70" y1="339.00" x2="257.20" y2="339.00" stroke="#000" stroke-width="1.2"/>
<line x1="254.70" y1="356.00" x2="257.20" y2="356.00" stroke="#000" stroke-width="1.2"/>
<text transform="translate(147.10 397.23) scale(1 1.040)" font-size="10.50" text-anchor="middle" font-weight="bold">Potentil (V) vs Ag/AgCl</text>
<text transform="translate(5.20 287.60) rotate(-90)" x="0" y="4.32" font-size="12.00" text-anchor="middle" font-weight="bold">Current density (A/g)</text>
<clipPath id="c4"><rect x="303.30" y="203.40" width="219.90" height="166.60"/></clipPath>
<g clip-path="url(#c4)" fill="none" stroke-width="1.60" stroke-linejoin="round" stroke-linecap="round">
<path stroke="#4c4e4b" d="M307.00 248.00 C325.67 246.33 346.26 244.43 363.00 243.00 C376.60 241.84 387.42 240.79 400.00 240.00 C413.07 239.18 426.62 238.70 440.00 238.20 C453.46 237.70 470.06 236.77 480.50 237.00 C487.09 237.15 490.88 237.61 496.60 238.20 C503.17 238.88 510.67 240.07 517.70 241.00"/>
<path stroke="#4c4e4b" d="M517.00 240.00 C507.97 243.33 498.47 247.33 489.90 250.00 C482.41 252.34 476.10 253.68 468.50 255.50 C459.92 257.55 450.86 259.81 441.00 261.60 C429.71 263.65 414.57 266.38 404.40 266.80 C397.18 267.10 392.03 266.80 385.80 265.70 C379.24 264.54 372.62 261.60 366.00 259.80 C359.42 258.01 353.31 256.17 346.20 254.90 C338.12 253.46 328.73 252.97 320.00 252.00"/>
<path stroke="#f33030" d="M307.30 271.40 C320.27 263.70 335.61 253.00 346.20 248.30 C352.88 245.34 358.79 244.69 363.40 243.00 C366.61 241.83 368.64 240.45 371.40 239.60 C374.17 238.75 377.13 238.38 380.00 237.90 C382.86 237.42 385.70 237.17 388.60 236.70 C391.60 236.21 394.56 235.46 397.70 235.00 C401.02 234.51 404.43 234.24 408.00 233.90 C411.85 233.53 415.49 233.13 420.00 232.90 C425.82 232.60 432.93 232.71 440.00 232.50 C447.99 232.26 461.78 231.67 465.50 231.50 C466.54 231.45 466.84 231.50 467.50 231.40 C468.17 231.30 468.70 231.08 469.50 230.90 C470.70 230.63 472.15 230.27 474.00 230.00 C476.91 229.58 481.53 229.00 485.30 229.00 C489.07 229.00 492.88 229.18 496.60 230.00 C500.45 230.85 504.45 232.66 508.00 234.10 C511.21 235.40 514.00 236.83 517.00 238.20"/>
<path stroke="#f33030" d="M517.00 239.00 C513.17 242.67 509.29 247.01 505.50 250.00 C502.30 252.52 499.63 253.58 496.00 256.10 C490.84 259.68 483.08 266.25 477.70 269.80 C473.74 272.41 470.99 273.77 467.00 276.00 C462.05 278.78 456.31 281.73 450.20 285.10 C442.81 289.18 433.91 295.92 425.80 298.80 C418.65 301.34 411.56 302.64 404.40 302.50 C397.13 302.35 389.04 300.60 382.50 297.80 C376.33 295.16 371.18 290.17 366.00 286.60 C361.34 283.40 357.34 279.87 352.80 277.40 C348.52 275.07 344.51 273.58 339.60 272.00 C333.73 270.12 326.16 268.35 319.80 267.30 C314.00 266.34 308.60 266.23 303.00 265.70"/>
<path stroke="#0b5ad6" d="M307.30 286.20 C319.17 275.20 332.17 260.61 342.90 253.20 C350.27 248.11 358.18 245.80 363.40 243.00 C366.72 241.22 368.62 239.64 371.40 238.40 C374.15 237.18 377.12 236.45 380.00 235.60 C382.86 234.75 385.69 234.06 388.60 233.30 C391.59 232.52 394.56 231.66 397.70 231.00 C401.01 230.31 404.43 229.77 408.00 229.30 C411.84 228.79 415.49 228.43 420.00 228.10 C425.81 227.68 432.93 227.54 440.00 227.20 C447.98 226.82 461.78 226.18 465.50 225.90 C466.54 225.82 466.84 225.85 467.50 225.70 C468.18 225.55 468.70 225.27 469.50 225.00 C470.70 224.60 472.14 224.04 474.00 223.60 C476.90 222.91 481.53 221.70 485.30 221.70 C489.07 221.70 492.93 222.31 496.60 223.60 C500.52 224.98 504.54 227.54 508.00 230.00 C511.32 232.36 514.00 235.33 517.00 238.00"/>
<path stroke="#0b5ad6" d="M517.00 239.00 C513.83 242.67 510.23 246.88 507.50 250.00 C505.46 252.34 504.34 253.50 502.10 256.10 C498.27 260.55 492.09 268.89 486.80 274.40 C481.89 279.51 475.60 284.93 471.60 288.20 C469.17 290.19 468.01 290.63 465.50 292.70 C460.96 296.44 452.72 304.59 447.20 309.50 C442.76 313.45 439.46 316.93 435.00 320.00 C430.41 323.16 425.11 326.00 420.00 328.10 C415.10 330.11 409.52 332.28 405.00 332.50 C401.35 332.68 398.47 331.59 395.00 330.60 C391.02 329.47 386.76 328.24 382.50 325.80 C377.15 322.73 371.31 317.58 366.00 312.60 C360.28 307.24 355.01 299.11 349.50 294.50 C345.11 290.82 341.06 288.63 336.30 286.20 C331.21 283.61 325.42 280.96 319.80 279.60 C314.32 278.27 308.60 278.53 303.00 278.00"/>
<path stroke="#3aae6c" d="M307.30 301.00 C312.20 294.00 316.17 287.07 322.00 280.00 C328.80 271.76 338.52 261.54 346.20 255.00 C352.16 249.92 358.79 246.42 363.40 243.00 C366.61 240.62 368.60 238.53 371.40 236.70 C374.14 234.91 377.11 233.54 380.00 232.10 C382.85 230.68 385.64 229.13 388.60 228.10 C391.54 227.07 394.56 226.55 397.70 225.90 C401.02 225.21 404.43 224.58 408.00 224.10 C411.84 223.59 415.49 223.34 420.00 223.00 C425.82 222.56 432.93 222.14 440.00 221.80 C447.98 221.42 461.78 221.15 465.50 220.90 C466.54 220.83 466.85 220.90 467.50 220.70 C468.19 220.49 468.70 220.04 469.50 219.60 C470.70 218.94 472.09 217.79 474.00 217.10 C476.85 216.07 481.53 215.00 485.30 215.00 C489.07 215.00 493.01 215.48 496.60 217.10 C500.62 218.91 504.66 222.87 508.00 226.00 C511.05 228.86 514.38 232.74 516.00 235.00 C516.87 236.21 517.13 237.00 517.70 238.00"/>
<path stroke="#3aae6c" d="M517.00 239.00 C514.33 242.67 511.58 246.51 509.00 250.00 C506.63 253.21 504.63 255.48 502.10 259.20 C498.50 264.49 494.32 272.35 489.90 279.00 C485.20 286.07 479.25 294.91 474.60 300.40 C471.35 304.24 468.55 306.11 465.50 309.50 C462.02 313.37 458.51 318.36 455.00 322.50 C451.67 326.43 448.58 329.95 445.00 333.75 C441.12 337.86 436.78 342.42 432.50 346.25 C428.43 349.89 424.56 353.55 420.00 356.25 C415.40 358.97 409.55 362.16 405.00 362.50 C401.38 362.77 398.50 361.63 395.00 360.00 C390.31 357.82 385.02 353.41 380.00 349.20 C374.26 344.39 367.80 338.52 362.70 332.40 C357.64 326.32 354.29 318.07 349.50 312.60 C345.39 307.90 341.15 304.38 336.30 301.00 C331.29 297.51 325.50 294.01 319.80 292.10 C314.38 290.28 308.60 290.37 303.00 289.50"/>
</g>
<rect x="303.30" y="203.40" width="59.70" height="52.10" fill="#fff"/>
<text transform="translate(315.00 212.11) scale(1 1.080)" font-size="8.00" text-anchor="start" font-weight="bold">CFS 4</text>
<line x1="305.00" y1="219.40" x2="324.00" y2="219.40" stroke="#4c4e4b" stroke-width="2"/>
<text transform="translate(326.00 222.51) scale(1 1.080)" font-size="8.00" text-anchor="start" font-weight="bold">10 mV/s</text>
<line x1="305.00" y1="230.00" x2="324.00" y2="230.00" stroke="#f33030" stroke-width="2"/>
<text transform="translate(326.00 233.11) scale(1 1.080)" font-size="8.00" text-anchor="start" font-weight="bold">20 mV/s</text>
<line x1="305.00" y1="240.60" x2="324.00" y2="240.60" stroke="#0b5ad6" stroke-width="2"/>
<text transform="translate(326.00 243.71) scale(1 1.080)" font-size="8.00" text-anchor="start" font-weight="bold">50 mV/s</text>
<line x1="305.00" y1="251.00" x2="324.00" y2="251.00" stroke="#3aae6c" stroke-width="2"/>
<text transform="translate(326.00 254.11) scale(1 1.080)" font-size="8.00" text-anchor="start" font-weight="bold">100 mV/s</text>
<rect x="303.30" y="203.40" width="219.90" height="166.60" fill="none" stroke="#000" stroke-width="1.7"/>
<line x1="302.80" y1="370.00" x2="302.80" y2="372.50" stroke="#000" stroke-width="1.3"/>
<text transform="translate(302.80 382.55) scale(1 1.120)" font-size="9.30" text-anchor="middle" font-weight="bold">0.0</text>
<line x1="335.60" y1="370.00" x2="335.60" y2="372.50" stroke="#000" stroke-width="1.3"/>
<text transform="translate(335.60 382.55) scale(1 1.120)" font-size="9.30" text-anchor="middle" font-weight="bold">0.2</text>
<line x1="368.40" y1="370.00" x2="368.40" y2="372.50" stroke="#000" stroke-width="1.3"/>
<text transform="translate(368.40 382.55) scale(1 1.120)" font-size="9.30" text-anchor="middle" font-weight="bold">0.4</text>
<line x1="401.20" y1="370.00" x2="401.20" y2="372.50" stroke="#000" stroke-width="1.3"/>
<text transform="translate(401.20 382.55) scale(1 1.120)" font-size="9.30" text-anchor="middle" font-weight="bold">0.6</text>
<line x1="434.00" y1="370.00" x2="434.00" y2="372.50" stroke="#000" stroke-width="1.3"/>
<text transform="translate(434.00 382.55) scale(1 1.120)" font-size="9.30" text-anchor="middle" font-weight="bold">0.8</text>
<line x1="466.80" y1="370.00" x2="466.80" y2="372.50" stroke="#000" stroke-width="1.3"/>
<text transform="translate(466.80 382.55) scale(1 1.120)" font-size="9.30" text-anchor="middle" font-weight="bold">1.0</text>
<line x1="499.60" y1="370.00" x2="499.60" y2="372.50" stroke="#000" stroke-width="1.3"/>
<text transform="translate(499.60 382.55) scale(1 1.120)" font-size="9.30" text-anchor="middle" font-weight="bold">1.2</text>
<line x1="319.20" y1="370.00" x2="319.20" y2="371.50" stroke="#000" stroke-width="1.2"/>
<line x1="352.00" y1="370.00" x2="352.00" y2="371.50" stroke="#000" stroke-width="1.2"/>
<line x1="384.80" y1="370.00" x2="384.80" y2="371.50" stroke="#000" stroke-width="1.2"/>
<line x1="417.60" y1="370.00" x2="417.60" y2="371.50" stroke="#000" stroke-width="1.2"/>
<line x1="450.40" y1="370.00" x2="450.40" y2="371.50" stroke="#000" stroke-width="1.2"/>
<line x1="483.20" y1="370.00" x2="483.20" y2="371.50" stroke="#000" stroke-width="1.2"/>
<line x1="516.00" y1="370.00" x2="516.00" y2="371.50" stroke="#000" stroke-width="1.2"/>
<line x1="300.80" y1="211.56" x2="303.30" y2="211.56" stroke="#000" stroke-width="1.3"/>
<text transform="translate(298.40 215.31) scale(1 1.120)" font-size="9.30" text-anchor="end" font-weight="bold">0.2</text>
<line x1="300.80" y1="243.30" x2="303.30" y2="243.30" stroke="#000" stroke-width="1.3"/>
<text transform="translate(298.40 247.05) scale(1 1.120)" font-size="9.30" text-anchor="end" font-weight="bold">0.0</text>
<line x1="300.80" y1="275.04" x2="303.30" y2="275.04" stroke="#000" stroke-width="1.3"/>
<text transform="translate(298.40 278.79) scale(1 1.120)" font-size="9.30" text-anchor="end" font-weight="bold">-0.2</text>
<line x1="300.80" y1="306.78" x2="303.30" y2="306.78" stroke="#000" stroke-width="1.3"/>
<text transform="translate(298.40 310.53) scale(1 1.120)" font-size="9.30" text-anchor="end" font-weight="bold">-0.4</text>
<line x1="300.80" y1="338.52" x2="303.30" y2="338.52" stroke="#000" stroke-width="1.3"/>
<text transform="translate(298.40 342.27) scale(1 1.120)" font-size="9.30" text-anchor="end" font-weight="bold">-0.6</text>
<line x1="300.80" y1="370.26" x2="303.30" y2="370.26" stroke="#000" stroke-width="1.3"/>
<text transform="translate(298.40 374.01) scale(1 1.120)" font-size="9.30" text-anchor="end" font-weight="bold">-0.8</text>
<line x1="301.80" y1="227.43" x2="303.30" y2="227.43" stroke="#000" stroke-width="1.2"/>
<line x1="301.80" y1="259.17" x2="303.30" y2="259.17" stroke="#000" stroke-width="1.2"/>
<line x1="301.80" y1="290.91" x2="303.30" y2="290.91" stroke="#000" stroke-width="1.2"/>
<line x1="301.80" y1="322.65" x2="303.30" y2="322.65" stroke="#000" stroke-width="1.2"/>
<line x1="301.80" y1="354.39" x2="303.30" y2="354.39" stroke="#000" stroke-width="1.2"/>
<line x1="323.50" y1="203.40" x2="323.50" y2="205.40" stroke="#000" stroke-width="1.2"/>
<line x1="346.00" y1="203.40" x2="346.00" y2="205.40" stroke="#000" stroke-width="1.2"/>
<line x1="368.50" y1="203.40" x2="368.50" y2="205.40" stroke="#000" stroke-width="1.2"/>
<line x1="391.00" y1="203.40" x2="391.00" y2="205.40" stroke="#000" stroke-width="1.2"/>
<line x1="413.00" y1="203.40" x2="413.00" y2="205.40" stroke="#000" stroke-width="1.2"/>
<line x1="435.80" y1="203.40" x2="435.80" y2="205.40" stroke="#000" stroke-width="1.2"/>
<line x1="458.00" y1="203.40" x2="458.00" y2="205.40" stroke="#000" stroke-width="1.2"/>
<line x1="480.50" y1="203.40" x2="480.50" y2="205.40" stroke="#000" stroke-width="1.2"/>
<line x1="503.00" y1="203.40" x2="503.00" y2="205.40" stroke="#000" stroke-width="1.2"/>
<line x1="520.70" y1="220.70" x2="523.20" y2="220.70" stroke="#000" stroke-width="1.2"/>
<line x1="520.70" y1="237.30" x2="523.20" y2="237.30" stroke="#000" stroke-width="1.2"/>
<line x1="520.70" y1="253.90" x2="523.20" y2="253.90" stroke="#000" stroke-width="1.2"/>
<line x1="520.70" y1="270.50" x2="523.20" y2="270.50" stroke="#000" stroke-width="1.2"/>
<line x1="520.70" y1="287.10" x2="523.20" y2="287.10" stroke="#000" stroke-width="1.2"/>
<line x1="520.70" y1="303.70" x2="523.20" y2="303.70" stroke="#000" stroke-width="1.2"/>
<line x1="520.70" y1="320.30" x2="523.20" y2="320.30" stroke="#000" stroke-width="1.2"/>
<line x1="520.70" y1="336.90" x2="523.20" y2="336.90" stroke="#000" stroke-width="1.2"/>
<line x1="520.70" y1="353.50" x2="523.20" y2="353.50" stroke="#000" stroke-width="1.2"/>
<text transform="translate(413.20 396.17) scale(1 1.040)" font-size="12.20" text-anchor="middle" font-weight="bold">Potential (V) vs Ag/AgCl</text>
<text transform="translate(272.00 286.00) rotate(-90)" x="0" y="5.76" font-size="16.00" text-anchor="middle" font-weight="bold">Current density (A/g)</text>
</svg>
</body></html>
